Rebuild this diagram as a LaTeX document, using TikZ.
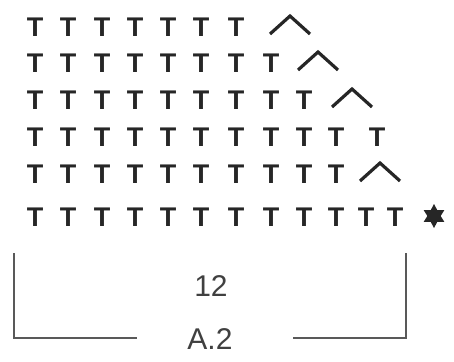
\documentclass[tikz,border=0pt]{standalone}
\usepackage{fontspec}
\setmainfont{Liberation Sans}
\usetikzlibrary{shapes.geometric}

\begin{document}
\begin{tikzpicture}[x=1pt,y=-1pt,
  stitch/.style={font=\fontsize{27}{27}\selectfont\bfseries, text=black!85, inner sep=0pt},
  decrease/.style={draw=black!85, line width=3.2pt},
  bracket/.style={draw=black!65, line width=2pt},
  chartlabel/.style={font=\fontsize{30}{30}\selectfont, text=black!75, inner sep=0pt}]
\useasboundingbox (0,0) rectangle (454,361);

\foreach \y/\n [count=\r] in {27/7,63/8,100/9,137/10,174/10,217/12}
  \foreach \x [count=\c] in {35,68,102,135,168,201,236,271,304,336,366,395}
    {\ifnum\c>\n\else \node[stitch] (t\r-\c) at (\x,\y) {T};\fi}
\node[stitch] (t4-11) at (377,137) {T};

\foreach \x/\y in {290/27,318/63,352/100,380/174}
  \draw[decrease] (\x-20,\y+7) -- (\x,\y-11) -- (\x+20,\y+7);

\node[star, star points=6, star point ratio=1.8, fill=black!85, minimum size=24pt, inner sep=0pt] (mark) at (434,216) {};

\node[chartlabel] (width) at (211,286) {12};
\node[chartlabel] (chart) at (210,339) {A.2};

\coordinate (lt) at (14,253);
\coordinate (lb) at (14,338);
\coordinate (lm) at (137,338);
\coordinate (rm) at (293,338);
\coordinate (rb) at (406,338);
\coordinate (rt) at (406,253);
\draw[bracket] (lt) -- (lb) -- (lm);
\draw[bracket] (rm) -- (rb) -- (rt);
\end{tikzpicture}
\end{document}
